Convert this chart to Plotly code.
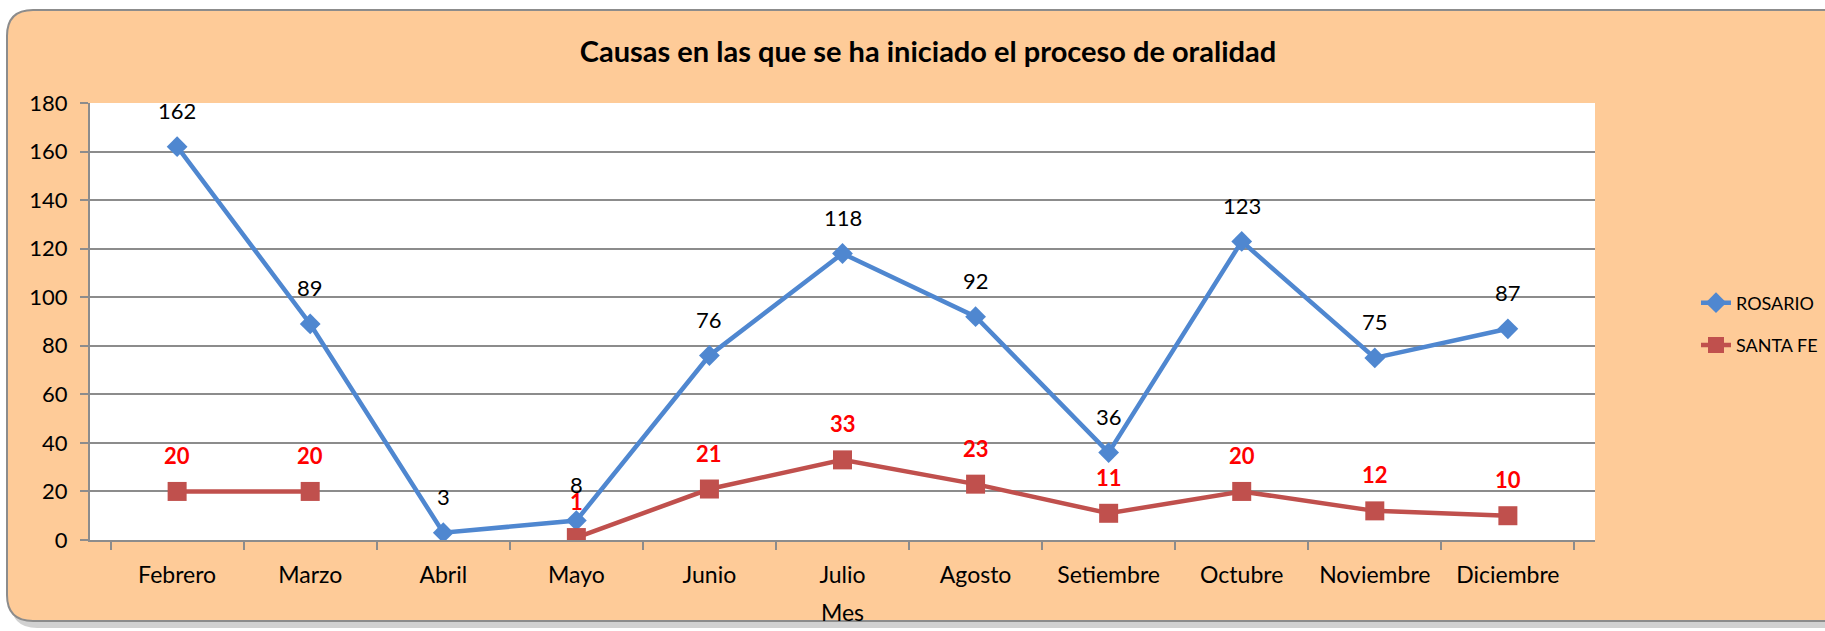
import plotly.graph_objects as go

meses = ["Febrero", "Marzo", "Abril", "Mayo", "Junio", "Julio", "Agosto",
         "Setiembre", "Octubre", "Noviembre", "Diciembre"]
rosario = [162, 89, 3, 8, 76, 118, 92, 36, 123, 75, 87]
santa_fe = [20, 20, None, 1, 21, 33, 23, 11, 20, 12, 10]
y_ticks = [0, 20, 40, 60, 80, 100, 120, 140, 160, 180]

W, H = 1825, 631
L, R, T, B = 90, 1595, 103, 540
FONT = "Lato"

def px(x, y):
    return (x - L) / (R - L), (B - y) / (B - T)

def rounded(x0, y0, x1, y1, r):
    def P(x, y):
        a, b = px(x, y)
        return f"{a:.5f},{b:.5f}"
    return (f"M {P(x0 + r, y0)} L {P(x1 - r, y0)} Q {P(x1, y0)} {P(x1, y0 + r)} "
            f"L {P(x1, y1 - r)} Q {P(x1, y1)} {P(x1 - r, y1)} "
            f"L {P(x0 + r, y1)} Q {P(x0, y1)} {P(x0, y1 - r)} "
            f"L {P(x0, y0 + r)} Q {P(x0, y0)} {P(x0 + r, y0)} Z")

fig = go.Figure()
fig.add_trace(go.Scatter(
    x=meses, y=rosario, name="ROSARIO", mode="lines+markers", legendgroup="a",
    line=dict(color="#4F87D0", width=4.5),
    marker=dict(symbol="diamond", size=16, color="#4F87D0"),
))
fig.add_trace(go.Scatter(
    x=meses, y=santa_fe, name="SANTA FE", mode="lines+markers", legendgroup="b",
    line=dict(color="#C0504D", width=4.5),
    marker=dict(symbol="square", size=19, color="#C0504D"),
    connectgaps=False,
))

annotations = []
for m, v in zip(meses, rosario):
    annotations.append(dict(x=m, y=v, text=str(v), showarrow=False, yshift=36,
                            font=dict(family=FONT, size=22, color="black")))
for m, v in zip(meses, santa_fe):
    if v is None:
        continue
    annotations.append(dict(x=m, y=v, text=f"<b>{v}</b>", showarrow=False, yshift=36,
                            font=dict(family=FONT, size=22, color="#FF0000")))

shapes = [
    dict(type="path", xref="paper", yref="paper", layer="below",
         path=rounded(11, 15, 1870, 628, 26),
         fillcolor="rgba(0,0,0,0.18)", line=dict(width=0)),
    dict(type="path", xref="paper", yref="paper", layer="below",
         path=rounded(7, 10, 1870, 621, 26),
         fillcolor="#FECB98", line=dict(color="#8C8C8C", width=2)),
    dict(type="rect", xref="paper", yref="paper", layer="below",
         x0=0, x1=1, y0=0, y1=1, fillcolor="white", line=dict(width=0)),
]

fig.update_layout(
    width=W, height=H,
    margin=dict(l=L, r=W - R, t=T, b=H - B, autoexpand=False),
    paper_bgcolor="white",
    plot_bgcolor="rgba(0,0,0,0)",
    font=dict(family=FONT, size=23, color="black"),
    title=dict(text="<b>Causas en las que se ha iniciado el proceso de oralidad</b>",
               x=928 / W, xanchor="center", y=1 - 52 / H, yanchor="middle",
               font=dict(family=FONT, size=29, color="black")),
    xaxis=dict(
        automargin=False,
        showgrid=False, showline=True, linecolor="#8C8C8C", linewidth=2,
        ticks="outside", tickson="boundaries", ticklen=8, tickcolor="#8C8C8C",
        tickwidth=2, ticklabelstandoff=13,
        title=dict(text="Mes", font=dict(family=FONT, size=23), standoff=18),
        tickfont=dict(family=FONT, size=23),
    ),
    yaxis=dict(
        automargin=False,
        range=[0, 180], tickvals=y_ticks, showgrid=True, gridcolor="#8C8C8C",
        gridwidth=1.5, showline=True, linecolor="#8C8C8C", linewidth=2,
        ticks="outside", ticklen=8, tickcolor="#8C8C8C", tickwidth=2,
        ticklabelstandoff=8,
        zeroline=False, tickfont=dict(family=FONT, size=22),
    ),
    legend=dict(x=(1696 - L) / (R - L), xanchor="left", y=(B - 324) / (B - T),
                yanchor="middle", traceorder="grouped",
                bgcolor="rgba(0,0,0,0)", font=dict(family=FONT, size=18),
                itemwidth=30, tracegroupgap=16),
    annotations=annotations,
    shapes=shapes,
    showlegend=True,
)

fig.write_html("out.html", config={"displayModeBar": False},
               post_script="document.body.style.margin='0';document.body.style.overflow='hidden';")
